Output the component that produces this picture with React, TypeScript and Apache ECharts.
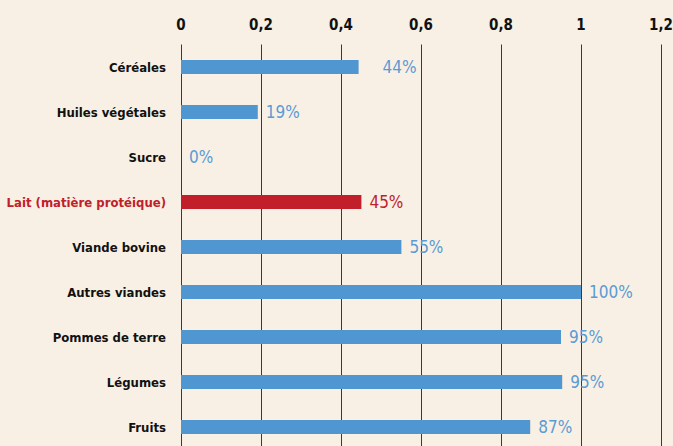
import React, { useEffect, useRef } from "react";
import * as echarts from "echarts";

const categories = [
  "Céréales",
  "Huiles végétales",
  "Sucre",
  "Lait (matière protéique)",
  "Viande bovine",
  "Autres viandes",
  "Pommes de terre",
  "Légumes",
  "Fruits",
];
const values = [0.444, 0.192, 0, 0.451, 0.551, 1.0, 0.95, 0.953, 0.873];
const pctLabels = ["44%", "19%", "0%", "45%", "55%", "100%", "95%", "95%", "87%"];
const highlighted = "Lait (matière protéique)";
const axisTicks = [0, 0.2, 0.4, 0.6, 0.8, 1, 1.2];

const BLUE = "#5097d2";
const BLUE_TXT = "#5b9bd5";
const RED = "#c1202a";
const FONT = "'DejaVu Sans Condensed', 'Liberation Sans Narrow', sans-serif";

export default function App() {
  const ref = useRef<HTMLDivElement>(null);
  useEffect(() => {
    if (!ref.current) return;
    const chart = echarts.init(ref.current, null, { renderer: "svg" });
    chart.setOption({
      animation: false,
      backgroundColor: "#f8f0e4",
      grid: {
        left: 181,
        right: 12,
        top: 44.5,
        height: 405,
        containLabel: false,
        outerBoundsMode: "none",
      },
      xAxis: {
        type: "value",
        position: "top",
        min: axisTicks[0],
        max: axisTicks[axisTicks.length - 1],
        interval: 0.2,
        axisLine: { show: false },
        axisTick: { show: false },
        axisLabel: {
          margin: 12,
          fontFamily: FONT,
          fontSize: 15,
          fontWeight: "bold",
          color: "#111",
          formatter: (v: number) => String(Math.round(v * 10) / 10).replace(".", ","),
        },
        splitLine: { show: true, lineStyle: { color: "#3a3a3a", width: 1 } },
      },
      yAxis: {
        type: "category",
        data: categories,
        inverse: true,
        axisLine: { show: false },
        axisTick: { show: false },
        axisLabel: {
          margin: 15,
          fontFamily: FONT,
          fontSize: 13,
          fontWeight: "bold",
          color: (v: string) => (v === highlighted ? RED : "#111"),
        },
      },
      series: [
        {
          type: "bar",
          barWidth: 14,
          data: values.map((v, i) => {
            const isHi = categories[i] === highlighted;
            return {
              value: v,
              itemStyle: { color: isHi ? RED : BLUE },
              label: {
                show: true,
                position: "right",
                distance: i === 0 ? 24 : 8,
                formatter: pctLabels[i],
                fontFamily: FONT,
                fontSize: 17,
                color: isHi ? RED : BLUE_TXT,
              },
            };
          }),
        },
      ],
    });
    return () => chart.dispose();
  }, []);
  return <div ref={ref} style={{ width: 673, height: 446, position: "fixed", left: 0, top: 0 }} />;
}
